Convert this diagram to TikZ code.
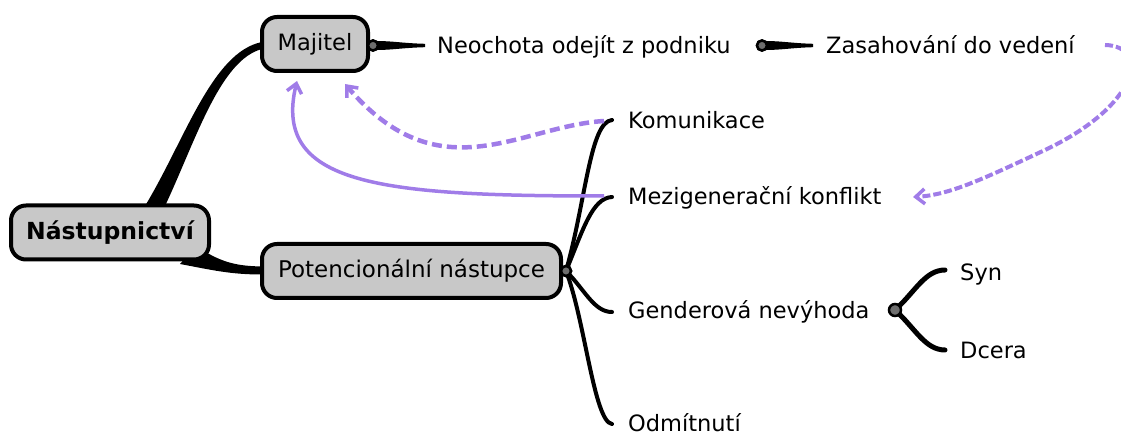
\documentclass[tikz,border=0pt]{standalone}
\usepackage{fontspec}
\setmainfont{DejaVu Sans}
\usetikzlibrary{arrows.meta}
\definecolor{boxgray}{RGB}{200,200,200}
\definecolor{dotgray}{RGB}{110,110,110}
\definecolor{lilac}{RGB}{160,124,232}
\begin{document}
\begin{tikzpicture}[x=1pt,y=-1pt,
  every node/.style={font=\fontsize{22.5}{27}\selectfont},
  topicbox/.style={draw=black, line width=4pt, fill=boxgray, rounded corners=15pt,
    minimum height=54pt, inner sep=0pt, align=center},
  leaf/.style={anchor=base west, inner sep=0pt},
  hub/.style={circle, draw=black, line width=2.5pt, fill=dotgray, minimum size=10pt, inner sep=0pt},
  branch/.style={line width=4pt, line cap=round},
  relA/.style={draw=lilac, line width=4.5pt, dash pattern=on 10pt off 5pt,
    -{Straight Barb[length=9pt,width=15pt,line width=3.5pt]}},
  relB/.style={draw=lilac, line width=3.5pt,
    -{Straight Barb[length=9pt,width=15pt,line width=3.5pt]}},
  relC/.style={draw=lilac, line width=4pt, dash pattern=on 8pt off 3pt,
    -{Straight Barb[length=9pt,width=15pt,line width=3.5pt]}},
]
\useasboundingbox (0,0) rectangle (1121,435);
\clip (0,0) rectangle (1121,435);

% tapered main connectors (drawn first, under boxes)
\fill[black] (145,206) .. controls (185,140) and (212,52) .. (262,42)
  -- (262,49) .. controls (220,60) and (196,140) .. (165,206) -- cycle;
\fill[black] (196,246) .. controls (220,262) and (235,266) .. (262,266.5)
  -- (262,274.5) .. controls (230,274.5) and (212,270) .. (180,264) -- cycle;

% boxes
\node[topicbox, minimum width=198pt, font=\fontsize{23.5}{28}\selectfont\bfseries] (root) at (110,232.5) {Nástupnictví};
\node[topicbox, minimum width=106pt] (maj) at (315,44) {Majitel};
\node[topicbox, minimum width=299pt, font=\fontsize{23}{28}\selectfont] (pot) at (411.5,271) {Potencionální nástupce};

% leaves
\node[leaf] (neo) at (437,54) {Neochota odejít z podniku};
\node[leaf] (zas) at (826,54) {Zasahování do vedení};
\node[leaf] (kom) at (628,129) {Komunikace};
\node[leaf] (mez) at (628,205) {Mezigenerační konflikt};
\node[leaf] (gen) at (628,319) {Genderová nevýhoda};
\node[leaf] (odm) at (628,431) {Odmítnutí};
\node[leaf] (syn) at (960,281) {Syn};
\node[leaf] (dce) at (960,358) {Dcera};

% hubs
\node[hub] (h1) at (373,45.5) {};
\node[hub] (h2) at (762,45.5) {};
\node[hub] (h3) at (566,271) {};
\node[hub] (h4) at (895,310) {};

% small tapered connectors
\fill[black] (377,41) .. controls (392,41) and (404,43.3) .. (425,43.8)
  -- (425,47.2) .. controls (404,47.7) and (392,50) .. (377,50) -- cycle;
\fill[black] (766,41) .. controls (781,41) and (793,43.3) .. (813,43.8)
  -- (813,47.2) .. controls (793,47.7) and (781,50) .. (766,50) -- cycle;
\node[hub] at (h1) {};
\node[hub] at (h2) {};

% branches from Potencionální nástupce
\coordinate (k0) at (612,120);
\coordinate (m0) at (612,197);
\coordinate (g0) at (612,312);
\coordinate (o0) at (612,424);
\draw[branch] (h3.center) .. controls (586,200) and (590,122) .. (k0);
\draw[branch] (h3.center) .. controls (583,230) and (592,198) .. (m0);
\draw[branch] (h3.center) .. controls (585,290) and (594,312) .. (g0);
\draw[branch] (h3.center) .. controls (585,320) and (594,422) .. (o0);
\node[hub] at (h3) {};

% branches Syn / Dcera
\coordinate (s0) at (945,270);
\coordinate (d0) at (945,350);
\draw[line width=5pt, line cap=round] (h4.center) .. controls (915,292) and (925,270) .. (s0);
\draw[line width=5pt, line cap=round] (h4.center) .. controls (915,328) and (925,350) .. (d0);
\node[hub, minimum size=12pt] at (h4) {};

% relationship arrows
\coordinate (ka) at (604,121);
\coordinate (ma) at (604,196);
\coordinate (za) at (1105,45);
\draw[relA] (ka) .. controls (520,126) and (440,195) .. (345,84);
\draw[relB] (ma) .. controls (380,196) and (272,185) .. (297,81);
\draw[relC] (za) .. controls (1150,46) and (1140,105) .. (1045,150)
  .. controls (985,178) and (950,195) .. (913,197);
\end{tikzpicture}
\end{document}
